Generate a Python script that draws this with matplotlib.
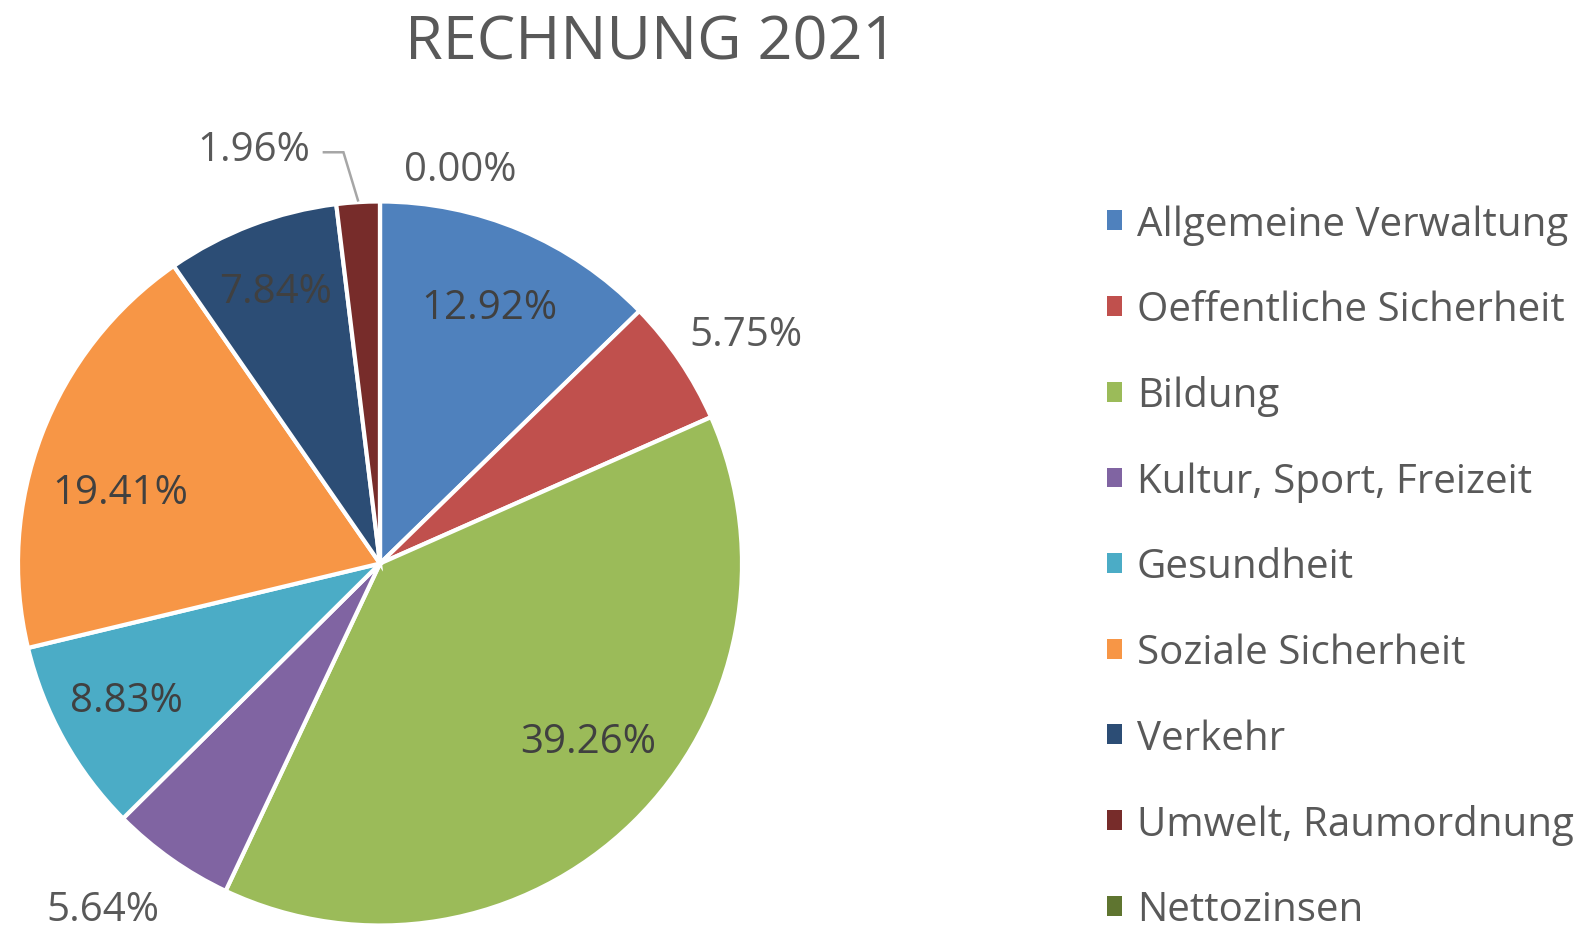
import numpy as np
import matplotlib
matplotlib.use("Agg")
import matplotlib.pyplot as plt
from matplotlib.patches import Patch

# ---- data ----
title = "RECHNUNG 2021"
categories = ["Allgemeine Verwaltung", "Oeffentliche Sicherheit", "Bildung",
              "Kultur, Sport, Freizeit", "Gesundheit", "Soziale Sicherheit",
              "Verkehr", "Umwelt, Raumordnung", "Nettozinsen"]
values = [12.92, 5.75, 39.26, 5.64, 8.83, 19.41, 7.84, 1.96, 0.00]
colors = ["#4F81BD", "#C0504D", "#9BBB59", "#8064A2", "#4BACC6",
          "#F79646", "#2C4D75", "#772C2A", "#5F7530"]

# label placement style (radius factor, angle nudge in degrees, inside?)
label_r = [0.78, 1.198, 0.749, 1.216, 0.79, 0.747, 0.815, 1.207, 1.122]
label_dt = [0.0, -1.6, 5.7, -3.8, -1.4, 4.7, 0.0, 13.3, -11.4]
label_inside = [True, False, True, False, True, True, True, False, False]

FONT = "Open Sans"
plt.rcParams["font.family"] = [FONT, "DejaVu Sans"]

W, H = 1595, 928
fig = plt.figure(figsize=(W / 100, H / 100), dpi=100)

cx, cy, R = 380.0, 564.5, 362.0
ax = fig.add_axes([(cx - R) / W, (H - cy - R) / H, 2 * R / W, 2 * R / H])
wedges, _ = ax.pie(values, colors=colors, startangle=90, counterclock=False,
                   radius=1.0,
                   wedgeprops=dict(edgecolor="white", linewidth=3.0))
ax.set_xlim(-1, 1)
ax.set_ylim(-1, 1)
ax.set_aspect("equal")
ax.axis("off")

total = sum(values)
cum = 0.0
mids = []
for v in values:
    a0 = 90 - 360 * cum / total
    a1 = 90 - 360 * (cum + v) / total
    mids.append((a0 + a1) / 2)
    cum += v

for i, v in enumerate(values):
    ang = np.deg2rad(mids[i] + label_dt[i])
    x, y = label_r[i] * np.cos(ang), label_r[i] * np.sin(ang) - 0.012
    col = "#404040" if label_inside[i] else "#595959"
    ax.text(x, y, f"{v:.2f}%", ha="center", va="center", fontsize=29,
            color=col, family=[FONT, "DejaVu Sans"])

# leader line for the small Umwelt slice
i = categories.index("Umwelt, Raumordnung")
m = np.deg2rad(mids[i])
ex, ey = 1.005 * np.cos(m), 1.005 * np.sin(m)
ax.plot([-0.155, -0.101, ex], [1.136, 1.136, ey], color="#A6A6A6",
        lw=1.8, clip_on=False, solid_joinstyle="miter")

fig.text(651 / W, 1 - 59 / H, title, ha="center", va="baseline",
         fontsize=44, color="#595959")

handles = [Patch(facecolor=c, edgecolor="none") for c in colors]
fig.legend(handles, categories, loc="upper left",
           bbox_to_anchor=(1107 / W, 1 - 205 / H), frameon=False,
           fontsize=29, labelcolor="#595959", handlelength=0.38,
           handleheight=0.38, handletextpad=0.36, labelspacing=1.12,
           borderpad=0, borderaxespad=0)

fig.savefig("out.png", dpi=100)
